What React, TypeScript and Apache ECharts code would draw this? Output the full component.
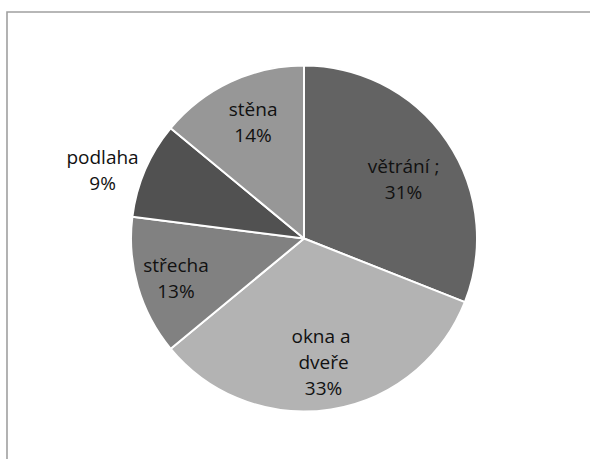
import React, { useEffect, useRef } from "react";
import * as echarts from "echarts";

const categories = ["větrání ;", "okna a dveře", "střecha", "podlaha", "stěna"];
const values = [31, 33, 13, 9, 14];
const colors = ["#636363", "#b3b3b3", "#818181", "#515151", "#979797"];
// label placement (style): distance from centre as a fraction of the radius,
// and a small angular shift (degrees) from the slice's mid-angle
const labelRadius = [0.67, 0.72, 0.775, 1.23, 0.735];
const labelShift = [3.4, 0, -1, -4.6, 1.6];

const CX = 304;
const CY = 238.5;
const R = 173;

export default function App() {
  const ref = useRef<HTMLDivElement>(null);
  useEffect(() => {
    if (!ref.current) return;
    const chart = echarts.init(ref.current, undefined, { renderer: "svg" });
    const total = values.reduce((a, b) => a + b, 0);
    let acc = 0;
    const mids = values.map((v) => {
      const m = ((acc + v / 2) / total) * Math.PI * 2;
      acc += v;
      return m;
    });
    chart.setOption({
      animation: false,
      backgroundColor: "#ffffff",
      graphic: [
        {
          type: "rect",
          shape: { x: 7, y: 12, width: 700, height: 600 },
          style: { fill: "none", stroke: "#a0a0a0", lineWidth: 1.6 },
          silent: true,
        },
      ],
      series: [
        {
          type: "pie",
          center: [CX, CY],
          radius: [0, R],
          startAngle: 90,
          clockwise: true,
          percentPrecision: 0,
          itemStyle: { borderColor: "#ffffff", borderWidth: 2 },
          label: {
            show: true,
            position: "inside",
            formatter: "{b}\n{d}%",
            fontFamily: "Open Sans",
            fontSize: 19,
            lineHeight: 26,
            color: "#111111",
            align: "center",
            verticalAlign: "middle",
          },
          labelLine: { show: false },
          emphasis: { disabled: true },
          labelLayout: (p: any) => {
            const a = mids[p.dataIndex] + (labelShift[p.dataIndex] * Math.PI) / 180;
            const f = labelRadius[p.dataIndex];
            return {
              x: CX + f * R * Math.sin(a),
              y: CY - f * R * Math.cos(a),
              align: "center",
              verticalAlign: "middle",
            };
          },
          data: categories.map((name, i) => ({
            name,
            value: values[i],
            itemStyle: { color: colors[i] },
            label: i === 1 ? { width: 72, overflow: "break" } : undefined,
          })),
        },
      ],
    });
    return () => chart.dispose();
  }, []);
  return (
    <div
      ref={ref}
      style={{ position: "fixed", left: 0, top: 0, width: 590, height: 459 }}
    />
  );
}
